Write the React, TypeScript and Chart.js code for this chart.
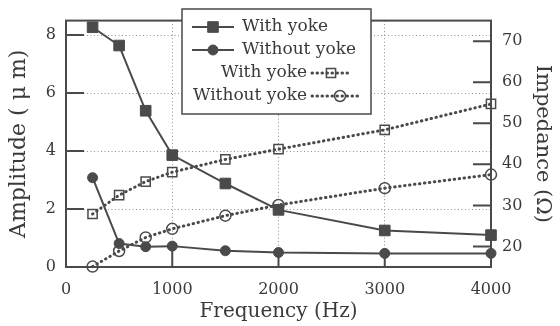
import React, { useEffect, useRef } from 'react';
import { Chart, registerables } from 'chart.js';

Chart.register(...registerables);

// ---- data ----
const frequencies = [250, 500, 750, 1000, 1500, 2000, 3000, 4000];
const ampWithYoke = [8.27, 7.64, 5.39, 3.86, 2.88, 1.97, 1.26, 1.1];
const ampWithoutYoke = [3.08, 0.81, 0.7, 0.72, 0.56, 0.5, 0.47, 0.47];
const impWithYoke = [27.9, 32.5, 35.8, 38.1, 41.2, 43.7, 48.4, 54.7];
const impWithoutYoke = [15.1, 18.9, 22.2, 24.3, 27.5, 30.1, 34.2, 37.5];
const xTicks = [0, 1000, 2000, 3000, 4000];
const ampTicks = [0, 2, 4, 6, 8];
const impTicks = [20, 30, 40, 50, 60, 70];
const seriesLabels = ['With yoke', 'Without yoke', 'With yoke', 'Without yoke'];

const INK = '#4a4a4a';
const TEXT = '#3a3a3a';
const GRID = '#8f8f8f';
const FONT = "'DejaVu Serif', serif";

const pts = (ys: number[]) => frequencies.map((x, i) => ({ x, y: ys[i] }));
const plain = (v: any) => String(v);

const framePlugin = {
  id: 'frameTicks',
  beforeDatasetsDraw(chart: any) {
    const { ctx, chartArea: a, scales } = chart;
    ctx.save();
    ctx.strokeStyle = INK;
    ctx.lineWidth = 2;
    ctx.strokeRect(a.left, a.top, a.right - a.left, a.bottom - a.top);
    const L = 18;
    ctx.beginPath();
    scales.y.ticks.forEach((t: any) => {
      const y = scales.y.getPixelForValue(t.value);
      ctx.moveTo(a.left, y);
      ctx.lineTo(a.left + L, y);
    });
    scales.y2.ticks.forEach((t: any) => {
      const y = scales.y2.getPixelForValue(t.value);
      ctx.moveTo(a.right - L, y);
      ctx.lineTo(a.right, y);
    });
    scales.x.ticks.forEach((t: any) => {
      const x = scales.x.getPixelForValue(t.value);
      ctx.moveTo(x, a.bottom);
      ctx.lineTo(x, a.bottom - L);
    });
    ctx.stroke();
    ctx.restore();
  },
};

function drawMarker(ctx: CanvasRenderingContext2D, ds: any, x: number, y: number) {
  const r = ds.pointRadius;
  ctx.save();
  ctx.setLineDash([]);
  ctx.lineWidth = ds.pointBorderWidth;
  ctx.strokeStyle = ds.pointBorderColor;
  ctx.fillStyle = ds.pointBackgroundColor;
  ctx.beginPath();
  if (ds.pointStyle === 'rect') {
    const s = Math.SQRT1_2 * r;
    ctx.rect(x - s, y - s, 2 * s, 2 * s);
  } else {
    ctx.arc(x, y, r, 0, Math.PI * 2);
  }
  ctx.fill();
  ctx.stroke();
  ctx.restore();
}

function drawSeg(ctx: CanvasRenderingContext2D, ds: any, x1: number, x2: number, y: number) {
  ctx.save();
  ctx.strokeStyle = ds.borderColor;
  ctx.lineWidth = ds.borderWidth;
  ctx.lineCap = ds.borderCapStyle || 'butt';
  ctx.setLineDash(ds.borderDash || []);
  ctx.beginPath();
  ctx.moveTo(x1, y);
  ctx.lineTo(x2, y);
  ctx.stroke();
  ctx.restore();
}

const legendPlugin = {
  id: 'boxLegend',
  afterDatasetsDraw(chart: any) {
    const { ctx } = chart;
    const dss = chart.data.datasets;
    const bx = 182, by = 9, bw = 189, bh = 105;
    ctx.save();
    ctx.fillStyle = '#ffffff';
    ctx.fillRect(bx, by, bw, bh);
    ctx.strokeStyle = INK;
    ctx.lineWidth = 1.5;
    ctx.strokeRect(bx, by, bw, bh);
    ctx.font = `17px ${FONT}`;
    ctx.fillStyle = TEXT;
    ctx.textBaseline = 'middle';
    const rows = [27, 50, 73, 96];
    [0, 1].forEach((i) => {
      const y = rows[i];
      drawSeg(ctx, dss[i], 192, 234, y);
      drawMarker(ctx, dss[i], 213, y);
      ctx.textAlign = 'left';
      ctx.fillStyle = TEXT;
      ctx.fillText(dss[i].label, 242, y);
    });
    const mx = [331, 340];
    const ex = [350, 358];
    [2, 3].forEach((i, k) => {
      const y = rows[i];
      ctx.textAlign = 'right';
      ctx.fillStyle = TEXT;
      ctx.fillText(dss[i].label, 307, y);
      drawSeg(ctx, dss[i], 312, ex[k], y);
      drawMarker(ctx, dss[i], mx[k], y);
    });
    ctx.restore();
  },
};

export default function App() {
  const ref = useRef<HTMLCanvasElement>(null);
  useEffect(() => {
    const solid = {
      borderColor: INK,
      borderWidth: 2,
      pointBorderColor: INK,
      pointBackgroundColor: INK,
      pointBorderWidth: 1,
      yAxisID: 'y',
      clip: false as any,
    };
    const dotted = {
      borderColor: INK,
      borderWidth: 3,
      borderDash: [0.5, 4.5],
      borderCapStyle: 'round' as const,
      pointBorderColor: INK,
      pointBackgroundColor: 'rgba(0,0,0,0)',
      pointBorderWidth: 1.5,
      yAxisID: 'y2',
      clip: false as any,
    };
    const chart = new Chart(ref.current!, {
      type: 'line',
      data: {
        datasets: [
          { ...solid, label: seriesLabels[0], data: pts(ampWithYoke), pointStyle: 'rect', pointRadius: 7.5 },
          { ...solid, label: seriesLabels[1], data: pts(ampWithoutYoke), pointStyle: 'circle', pointRadius: 5 },
          { ...dotted, label: seriesLabels[2], data: pts(impWithYoke), pointStyle: 'rect', pointRadius: 6.5 },
          { ...dotted, label: seriesLabels[3], data: pts(impWithoutYoke), pointStyle: 'circle', pointRadius: 5.5 },
        ] as any,
      },
      options: {
        animation: false,
        responsive: false,
        devicePixelRatio: 1,
        layout: { padding: { top: 7, left: 0, right: 0, bottom: 0 }, autoPadding: false } as any,
        plugins: { legend: { display: false }, tooltip: { enabled: false } },
        scales: {
          x: {
            type: 'linear',
            min: 0,
            max: 4000,
            afterBuildTicks: (s: any) => { s.ticks = xTicks.map((v) => ({ value: v })); },
            afterFit: (s: any) => { s.height = 59; },
            grid: { color: GRID, lineWidth: 1, drawTicks: false },
            border: { display: false, dash: [1, 2.5] },
            ticks: { color: TEXT, font: { family: FONT, size: 16 }, padding: 13, maxRotation: 0, autoSkip: false, callback: plain },
            title: { display: true, text: 'Frequency (Hz)', color: TEXT, font: { family: FONT, size: 20 }, padding: { top: 0, bottom: 2 } },
          },
          y: {
            type: 'linear',
            position: 'left',
            min: 0,
            max: 8.5,
            afterBuildTicks: (s: any) => { s.ticks = ampTicks.map((v) => ({ value: v })); },
            afterFit: (s: any) => { s.width = 66; },
            grid: { color: GRID, lineWidth: 1, drawTicks: false },
            border: { display: false, dash: [1, 2.5] },
            ticks: { color: TEXT, font: { family: FONT, size: 16 }, padding: 10, callback: plain },
            title: { display: true, text: 'Amplitude ( μ m)', color: TEXT, font: { family: FONT, size: 22 }, padding: { top: 6, bottom: 0 } },
          },
          y2: {
            type: 'linear',
            position: 'right',
            min: 15,
            max: 75,
            afterBuildTicks: (s: any) => { s.ticks = impTicks.map((v) => ({ value: v })); },
            afterFit: (s: any) => { s.width = 69; },
            grid: { display: false, drawTicks: false },
            border: { display: false },
            ticks: { color: TEXT, font: { family: FONT, size: 16 }, padding: 11, callback: plain },
            title: { display: true, text: 'Impedance (Ω)', color: TEXT, font: { family: FONT, size: 21 }, padding: { top: 5, bottom: 0 } },
          },
        },
      } as any,
      plugins: [framePlugin, legendPlugin],
    });
    return () => chart.destroy();
  }, []);
  return (
    <div style={{ position: 'absolute', left: 0, top: 0, width: 560, height: 326, background: '#ffffff' }}>
      <canvas ref={ref} width={560} height={326} style={{ display: 'block' }} />
    </div>
  );
}
